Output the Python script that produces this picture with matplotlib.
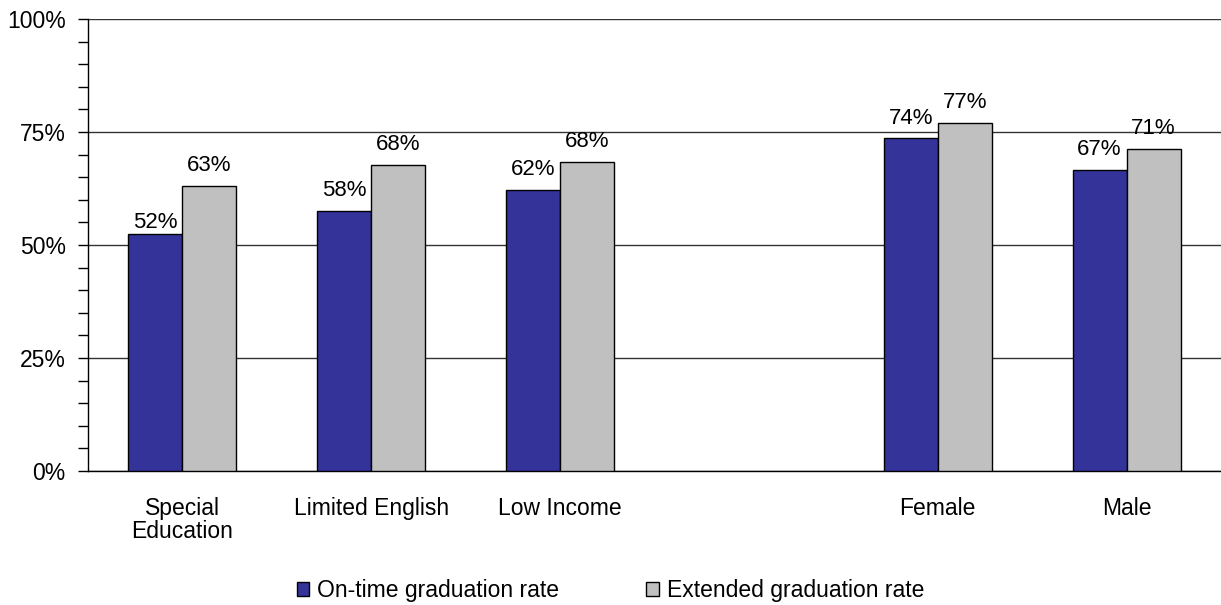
import matplotlib
matplotlib.use("Agg")
import matplotlib.pyplot as plt
import numpy as np
from matplotlib.ticker import MultipleLocator, PercentFormatter

plt.rcParams["font.family"] = ["Liberation Sans", "DejaVu Sans"]

# data (the empty slot is the gap between groups)
CATEGORIES = ["Special\nEducation", "Limited English", "Low Income", "", "Female", "Male"]
ON_TIME = [52.4, 57.6, 62.2, np.nan, 73.6, 66.7]
EXTENDED = [63.1, 67.7, 68.4, np.nan, 77.1, 71.2]
SERIES_NAMES = ["On-time graduation rate", "Extended graduation rate"]

BLUE = "#333399"
GRAY = "#C0C0C0"
WIDTH = 0.286

fig = plt.figure(figsize=(12.21, 6.05), dpi=100)
ax = fig.add_axes([88 / 1221, 1 - 471 / 605, 1 - 88 / 1221, (471 - 19) / 605])

x = np.arange(len(CATEGORIES))
bars_a = ax.bar(x - WIDTH / 2, ON_TIME, WIDTH, color=BLUE, edgecolor="black",
                linewidth=1.0, label=SERIES_NAMES[0], zorder=3)
bars_b = ax.bar(x + WIDTH / 2, EXTENDED, WIDTH, color=GRAY, edgecolor="black",
                linewidth=1.0, label=SERIES_NAMES[1], zorder=3)

# Excel put the first label right on its bar; the rest float a little higher
nudge = {(0, 0): 0.5}
for s, bars in enumerate([bars_a, bars_b]):
    for i, b in enumerate(bars):
        h = b.get_height()
        if np.isnan(h):
            continue
        ax.annotate(f"{h:.0f}%", (b.get_x() + b.get_width() / 2, h),
                    xytext=(0, nudge.get((i, s), 7)), textcoords="offset points",
                    ha="center", va="bottom", fontsize=16, zorder=4)

ax.set_xlim(-0.5, len(CATEGORIES) - 0.5)
ax.set_ylim(0, 100)
ax.yaxis.set_major_locator(MultipleLocator(25))
ax.yaxis.set_minor_locator(MultipleLocator(5))
ax.yaxis.set_major_formatter(PercentFormatter(decimals=0))
ax.grid(axis="y", which="major", color="#333333", linewidth=1.0, zorder=0)
ax.set_axisbelow(True)

ax.set_xticks(x)
ax.set_xticklabels(CATEGORIES, fontsize=16.5, linespacing=1.0)
ax.tick_params(axis="x", length=0, pad=19)
ax.tick_params(axis="y", which="both", direction="out", length=7, width=1,
               labelsize=16.5, pad=9)

for side in ["top", "right"]:
    ax.spines[side].set_visible(False)
ax.spines["left"].set_linewidth(1.0)
ax.spines["bottom"].set_linewidth(1.0)

fig.legend(loc="center", bbox_to_anchor=(0.5, 1 - 591 / 605), ncol=2,
           frameon=False, fontsize=16.5, handlelength=0.55, handleheight=0.55,
           handletextpad=0.35, columnspacing=3.8)

fig.savefig("out.png", dpi=100)
